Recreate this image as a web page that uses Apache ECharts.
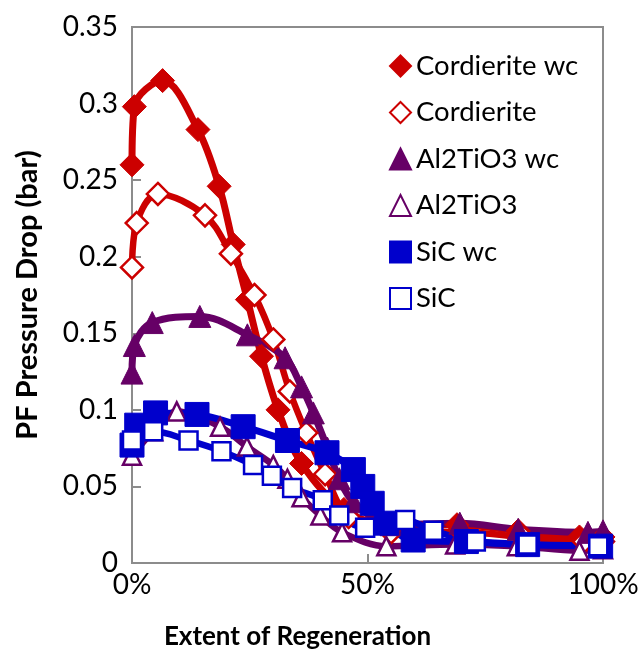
<!DOCTYPE html>
<html>
<head>
<meta charset="utf-8">
<script src="https://cdn.jsdelivr.net/npm/echarts@6/dist/echarts.min.js"></script>
<style>
html,body{margin:0;padding:0;background:#fff;}
#chart{width:644px;height:655px;}
</style>
</head>
<body>
<div id="chart"></div>
<script>
// Data: [extent of regeneration (%), PF pressure drop (bar)]
const seriesNames = ["Cordierite wc", "Cordierite", "Al2TiO3 wc", "Al2TiO3", "SiC wc", "SiC"];
const cordieriteWc = [[0,0.26],[0.5,0.298],[6.5,0.315],[14,0.283],[18.5,0.246],[21.5,0.208],[24.5,0.172],[27.5,0.135],[31,0.1],[36,0.065],[45,0.035],[56,0.024],[69,0.025],[82,0.021],[95,0.017],[100,0.017]];
const cordierite = [[0,0.193],[1,0.222],[5.5,0.241],[15.5,0.227],[21,0.202],[26,0.175],[30,0.146],[33.5,0.112],[37,0.085],[41,0.058],[46,0.03],[55,0.02],[70,0.02],[83,0.017],[96,0.014],[100,0.014]];
const al2tio3Wc = [[0,0.124],[0.5,0.142],[4.3,0.157],[14.4,0.161],[24.5,0.149],[32.5,0.134],[36,0.115],[38.5,0.098],[41.5,0.075],[44,0.055],[47,0.04],[55,0.025],[69.6,0.026],[82,0.022],[96.8,0.02],[100,0.021]];
const al2tio3 = [[0,0.07],[4.5,0.086],[9.5,0.099],[18.7,0.089],[24.4,0.076],[30,0.064],[33,0.055],[36,0.043],[40,0.031],[44.6,0.02],[54,0.011],[68.6,0.012],[81.7,0.011],[95,0.008],[100,0.009]];
const sicWc = [[0,0.077],[1,0.09],[5,0.098],[13.8,0.097],[23.6,0.089],[33,0.08],[41.4,0.072],[47,0.061],[49,0.05],[51,0.039],[54,0.026],[59.7,0.015],[71,0.014],[84,0.012],[99.5,0.011]];
const sic = [[0,0.08],[4.5,0.086],[12,0.08],[19,0.073],[25.7,0.064],[29.7,0.057],[34,0.049],[40.5,0.041],[44,0.031],[49.5,0.023],[58,0.028],[64,0.021],[73,0.014],[84,0.012],[99,0.011]];

const RED = '#cc0000', PURPLE = '#660066', BLUE = '#0000cc';
const FONT = 'Lato';

function mk(name, data, color, symbol, size, filled, lw) {
  return {
    name: name, type: 'line', data: data, smooth: 0.35, clip: false,
    symbol: symbol, symbolSize: size,
    lineStyle: { color: color, width: lw },
    itemStyle: filled ? { color: color, borderColor: color, borderWidth: 1 }
                      : { color: '#ffffff', borderColor: color, borderWidth: 2.5 },
    emphasis: { disabled: true }
  };
}

const chart = echarts.init(document.getElementById('chart'), null, { renderer: 'canvas' });
chart.setOption({
  animation: false,
  backgroundColor: '#ffffff',
  textStyle: { fontFamily: FONT },
  grid: { left: 132, right: 41, top: 27, bottom: 92, show: true, borderColor: '#8c8c8c', borderWidth: 2, backgroundColor: 'transparent' },
  legend: {
    orient: 'vertical', left: 384, top: 47, itemGap: 18.5, itemWidth: 21, itemHeight: 21,
    textStyle: { fontFamily: FONT, fontSize: 27.5, color: '#000', lineHeight: 27 },
    data: [
      { name: seriesNames[0], icon: 'diamond' },
      { name: seriesNames[1], icon: 'diamond' },
      { name: seriesNames[2], icon: 'triangle' },
      { name: seriesNames[3], icon: 'triangle' },
      { name: seriesNames[4], icon: 'rect' },
      { name: seriesNames[5], icon: 'rect' }
    ]
  },
  xAxis: {
    type: 'value', min: 0, max: 100, interval: 50,
    name: 'Extent of Regeneration', nameLocation: 'middle', nameGap: 61,
    nameTextStyle: { fontFamily: FONT, fontSize: 26, fontWeight: 'bold', color: '#000', padding: [0, 140, 0, 0] },
    axisLine: { show: true, lineStyle: { color: '#8c8c8c', width: 2 } },
    axisTick: { show: true, inside: true, length: 9, lineStyle: { color: '#8c8c8c', width: 2 } },
    axisLabel: { formatter: '{value}%', fontFamily: FONT, fontSize: 28, color: '#000', margin: 8 },
    splitLine: { show: false }
  },
  yAxis: {
    type: 'value', min: 0, max: 0.35, interval: 0.05,
    name: 'PF Pressure Drop (bar)', nameLocation: 'middle', nameGap: 90, nameRotate: 90,
    nameTextStyle: { fontFamily: FONT, fontSize: 29, fontWeight: 'bold', color: '#000' },
    axisLine: { show: true, lineStyle: { color: '#8c8c8c', width: 2 } },
    axisTick: { show: true, inside: true, length: 9, lineStyle: { color: '#8c8c8c', width: 2 } },
    axisLabel: { fontFamily: FONT, fontSize: 28, color: '#000', margin: 14,
      formatter: function (v) { return String(+v.toFixed(2)); } },
    splitLine: { show: false }
  },
  series: [
    mk(seriesNames[0], cordieriteWc, RED, 'diamond', 24, true, 7),
    mk(seriesNames[1], cordierite, RED, 'diamond', 22, false, 6.5),
    mk(seriesNames[2], al2tio3Wc, PURPLE, 'triangle', 22, true, 7),
    mk(seriesNames[3], al2tio3, PURPLE, 'triangle', 18, false, 6.5),
    mk(seriesNames[4], sicWc, BLUE, 'rect', 24, true, 7),
    mk(seriesNames[5], sic, BLUE, 'rect', 18, false, 6.5)
  ]
});
</script>
</body>
</html>
